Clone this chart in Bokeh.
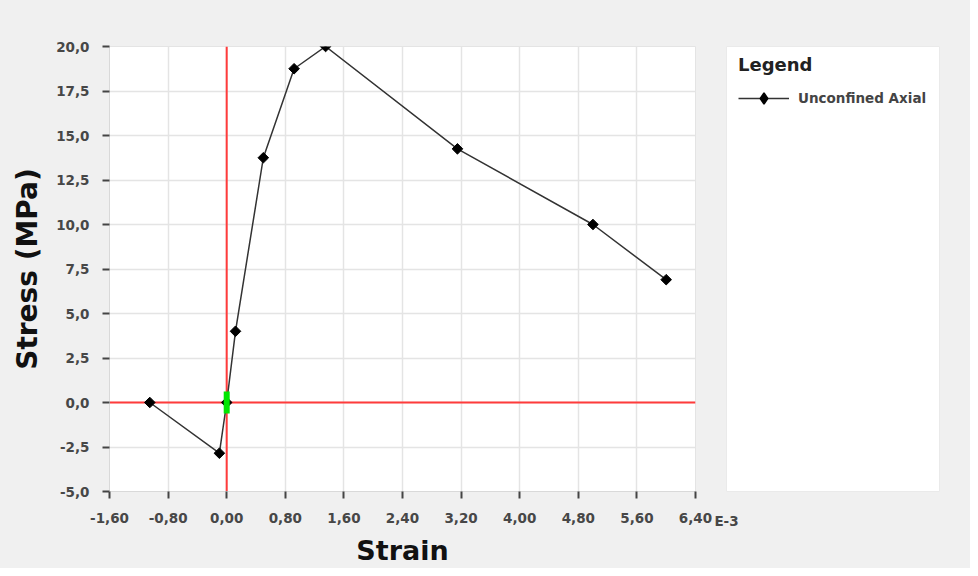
from bokeh.plotting import figure
from bokeh.layouts import row
from bokeh.models import (Span, Legend, LegendItem, FixedTicker,
                          CustomJSTickFormatter, Range1d)
from bokeh.embed import file_html
from bokeh.resources import INLINE

# ---- data (strain in units of 1E-3, stress in MPa) ----
strain = [-1.05, -0.10, 0.00, 0.12, 0.50, 0.92, 1.35, 3.15, 5.00, 6.00]
stress = [0.00, -2.85, 0.00, 4.00, 13.75, 18.75, 20.00, 14.25, 10.00, 6.90]
series_name = "Unconfined Axial"
marker_x = [0.0]
marker_y = [0.0]
x_ticks = [-1.6, -0.8, 0.0, 0.8, 1.6, 2.4, 3.2, 4.0, 4.8, 5.6, 6.4]
y_ticks = [-5.0, -2.5, 0.0, 2.5, 5.0, 7.5, 10.0, 12.5, 15.0, 17.5, 20.0]
x_exponent = "E-3"

BG = "#f0f0f0"
FONT = "DejaVu Sans"
TICK_SIZE = "13.5px"
TICK_COLOR = "#474747"

p = figure(width=712, height=568, output_backend="svg", toolbar_location=None,
           x_range=Range1d(-1.6, 6.4), y_range=Range1d(-5.0, 20.0),
           min_border_left=109, min_border_right=17,
           min_border_top=46, min_border_bottom=77)
p.background_fill_color = "white"
p.border_fill_color = BG
p.outline_line_color = "#e4e4e4"

# red zero lines
p.add_layout(Span(location=0, dimension="height", line_color="#ff3b3b",
                  line_width=2, level="underlay"))
p.add_layout(Span(location=0, dimension="width", line_color="#ff3b3b",
                  line_width=2, level="underlay"))

line_style = dict(line_color="#333333", line_width=1.5)
p.line(strain, stress, **line_style)
p.scatter(strain, stress, marker="square", size=7.5, angle=0.785398,
          fill_color="black", line_color="black")
p.rect(marker_x, marker_y, width=6, height=22, width_units="screen",
       height_units="screen", fill_color="#00e600", line_color=None)

# axes
for ax in (p.xaxis[0], p.yaxis[0]):
    ax.axis_line_color = "#d9d9d9"
    ax.major_tick_line_color = "#444444"
    ax.major_tick_line_width = 2
    ax.major_tick_out = 7
    ax.major_tick_in = 0
    ax.minor_tick_line_color = None
    ax.major_label_text_font = FONT
    ax.major_label_text_font_style = "bold"
    ax.major_label_text_font_size = TICK_SIZE
    ax.major_label_text_color = TICK_COLOR
    ax.axis_label_text_font = FONT
    ax.axis_label_text_font_style = "bold"
    ax.axis_label_text_color = "#111111"
    ax.axis_label_text_line_height = 1.0
    ax.major_label_text_line_height = 1.0

p.xaxis.axis_label_text_font_size = "27px"
p.yaxis.axis_label_text_font_size = "28px"
p.xaxis.ticker = FixedTicker(ticks=x_ticks)
p.yaxis.ticker = FixedTicker(ticks=y_ticks)
p.xaxis.formatter = CustomJSTickFormatter(
    code="var v = Math.abs(tick) < 1e-9 ? 0 : tick; return v.toFixed(2).replace('.', ',');")
p.yaxis.formatter = CustomJSTickFormatter(
    code="var v = Math.abs(tick) < 1e-9 ? 0 : tick; return v.toFixed(1).replace('.', ',');")
p.xaxis.axis_label = "Strain"
p.yaxis.axis_label = "Stress (MPa)"
p.xaxis.major_label_standoff = 14
p.yaxis.major_label_standoff = 13
p.xaxis.axis_label_standoff = 9
p.yaxis.axis_label_standoff = 9

p.xgrid.ticker = FixedTicker(ticks=x_ticks)
p.ygrid.ticker = FixedTicker(ticks=y_ticks)
p.grid.grid_line_color = "#e4e4e4"
p.grid.grid_line_width = 1.5

# ---- legend panel (white box to the right) ----
q = figure(width=258, height=568, output_backend="svg", toolbar_location=None,
           x_range=Range1d(100, 101), y_range=Range1d(100, 101),
           y_axis_location=None,
           min_border_left=14, min_border_right=31,
           min_border_top=46, min_border_bottom=77)
q.background_fill_color = "white"
q.border_fill_color = BG
q.outline_line_color = "#eaeaea"
q.grid.visible = False
qa = q.xaxis[0]
qa.ticker = FixedTicker(ticks=[100])
qa.major_label_overrides = {100: x_exponent}
qa.axis_line_color = None
qa.major_tick_line_color = None
qa.minor_tick_line_color = None
qa.major_tick_out = 7
qa.major_tick_in = 0
qa.major_label_standoff = 14
qa.major_label_text_font = FONT
qa.major_label_text_font_style = "bold"
qa.major_label_text_font_size = TICK_SIZE
qa.major_label_text_color = TICK_COLOR
qa.major_label_text_line_height = 1.0

# legend sample renderers (same series, outside this panel's visible range)
lr = q.line(strain, stress, **line_style)
mr = q.scatter(strain, stress, marker="diamond", size=10, line_width=1.5,
               fill_color="black", line_color="black")

legend = Legend(items=[LegendItem(label=series_name, renderers=[lr, mr])],
                location=(12, 379), title="Legend",
                title_text_font=FONT, title_text_font_style="bold",
                title_text_font_size="18px", title_text_color="#222222",
                title_standoff=9,
                label_text_font=FONT, label_text_font_style="bold",
                label_text_font_size=TICK_SIZE,
                label_text_color="#444444", label_standoff=9,
                glyph_width=51, glyph_height=28, label_height=20,
                padding=0, margin=0, spacing=0,
                background_fill_alpha=0, border_line_color=None)
q.add_layout(legend, "center")

layout = row(p, q, spacing=0, styles={"background-color": BG})
open("out.html", "w").write(file_html(layout, INLINE))
